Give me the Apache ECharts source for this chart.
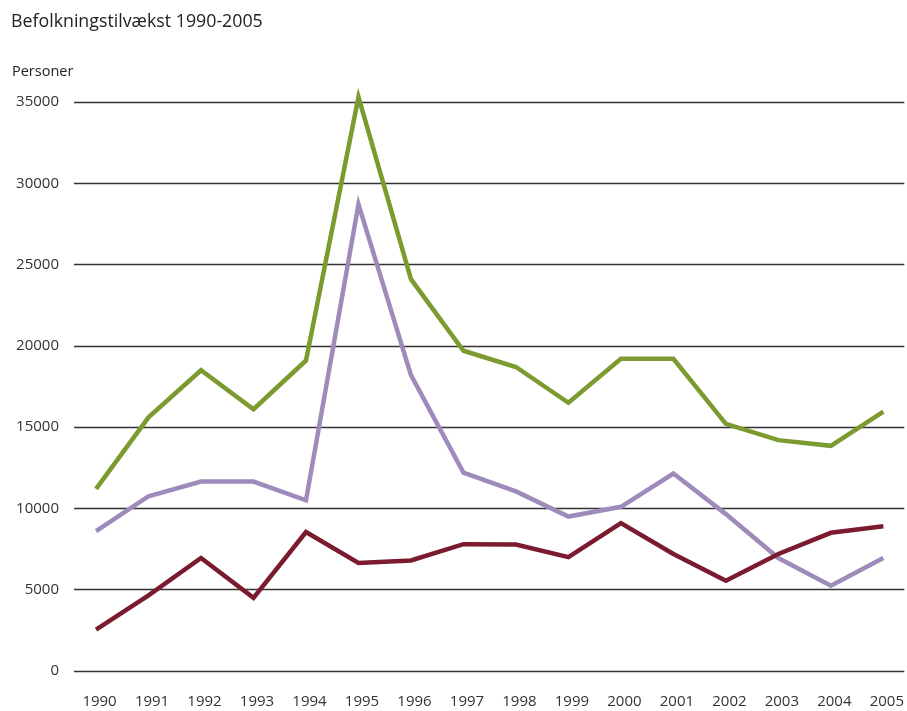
<!DOCTYPE html>
<html>
<head>
<meta charset="utf-8">
<script src="https://cdn.jsdelivr.net/npm/echarts@6/dist/echarts.min.js"></script>
<style>html,body{margin:0;padding:0;background:#fff}#c{width:907px;height:711px}</style>
</head>
<body>
<div id="c"></div>
<script>
var years = [1990,1991,1992,1993,1994,1995,1996,1997,1998,1999,2000,2001,2002,2003,2004,2005];
var greenValues = [11200,15600,18500,16100,19100,35300,24100,19700,18700,16500,19200,19200,15200,14200,13850,15950];
var purpleValues = [8600,10750,11650,11650,10500,28700,18200,12200,11050,9500,10100,12150,9650,6950,5250,6950];
var redValues = [2550,4650,6950,4500,8550,6650,6800,7800,7780,7000,9100,7200,5550,7200,8500,8900];
var yTicks = [0,5000,10000,15000,20000,25000,30000,35000];

function pairs(vals){ return years.map(function(y,i){ return [y, vals[i]]; }); }

var font = '"Open Sans", "Noto Sans", sans-serif';
var chart = echarts.init(document.getElementById('c'), null, {renderer:'canvas'});
function lineSeries(vals, color){
  return {type:'line', data:pairs(vals), symbol:'none', smooth:false, clip:false,
    lineStyle:{color:color, width:4.5, join:'miter'}, itemStyle:{color:color}, z:3};
}
chart.setOption({
  animation:false,
  backgroundColor:'#fff',
  title:[
    {text:'Befolkningstilvækst 1990-2005', left:6, top:8, textStyle:{fontFamily:font, fontSize:17.8, fontWeight:'normal', color:'#222'}},
    {text:'Personer', left:7, top:59, textStyle:{fontFamily:font, fontSize:14.5, fontWeight:'normal', color:'#222'}}
  ],
  grid:{left:74, right:0, top:102, bottom:40, containLabel:false},
  xAxis:{type:'value', min:1989.58, max:2005.4,
    axisLine:{show:false}, axisTick:{show:false}, splitLine:{show:false},
    axisLabel:{customValues:years, margin:23, fontFamily:font, fontSize:15, color:'#333', padding:[0,0,0,7],
      formatter:function(v){ return String(Math.round(v)); }}
  },
  yAxis:{type:'value', min:yTicks[0], max:yTicks[yTicks.length-1], interval:5000,
    axisLine:{show:false}, axisTick:{show:false},
    axisLabel:{margin:15, fontFamily:font, fontSize:15, color:'#333',
      formatter:function(v){ return String(v); }},
    splitLine:{lineStyle:{color:'#333', width:1.3}}
  },
  series:[
    lineSeries(greenValues, '#7b9a2f'),
    lineSeries(purpleValues, '#9e8bbb'),
    lineSeries(redValues, '#7a1b2f')
  ]
});
</script>
</body>
</html>
